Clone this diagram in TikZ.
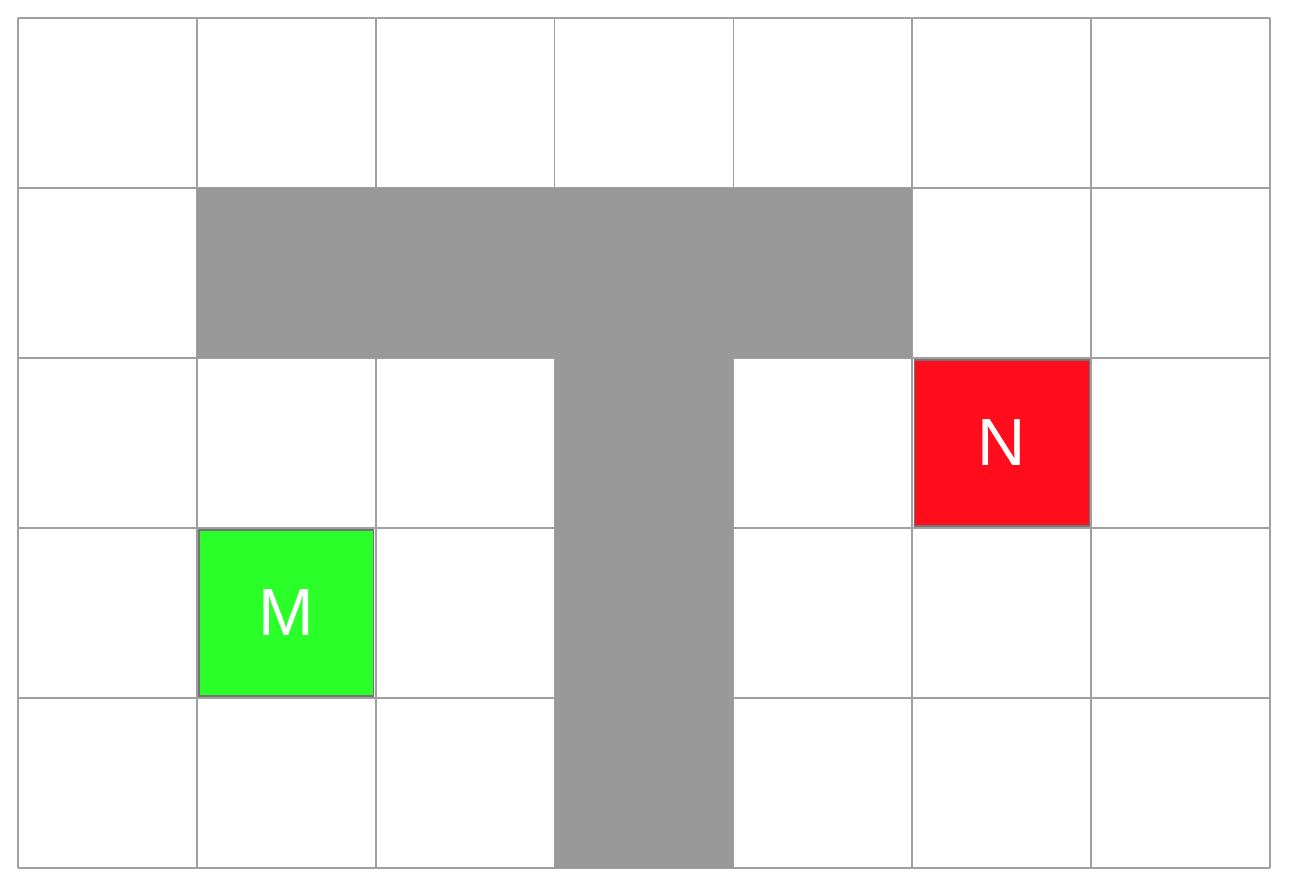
\documentclass[tikz,border=0pt]{standalone}
\usepackage{fontspec}
\setmainfont{Liberation Sans}
\usepackage{tikz}

\definecolor{gridgray}{HTML}{A0A0A0}
\definecolor{wallgray}{HTML}{999999}
\definecolor{startgreen}{HTML}{2AFF2A}
\definecolor{goalred}{HTML}{FF0D1D}

\begin{document}
\begin{tikzpicture}[x=0.02cm, y=-0.02cm,
    cell/.style={draw=black!55, line width=0.8pt, minimum width=3.5cm,
        minimum height=3.32cm, inner sep=0pt, text=white,
        font=\fontsize{38}{38}\selectfont}]
    \useasboundingbox (0,0) rectangle (1294,888);
    \def\W{178.86}
    \def\H{170}

    % 1. Grid lines
    \foreach \c in {0,...,7}
        \draw[gridgray, line width=1pt] ({18+\c*\W},18) -- ({18+\c*\W},868);
    \foreach \r in {0,...,5}
        \draw[gridgray, line width=1pt] (18,{18+\r*\H}) -- (1270,{18+\r*\H});

    % 2. Walls: top bar and stem
    \foreach \c/\r in {1/1, 2/1, 3/1, 4/1, 3/2, 3/3, 3/4}
        \fill[wallgray] ({18+\c*\W},{18+\r*\H}) rectangle ++(\W,\H);

    % 3. Start and goal cells
    \node[cell, fill=startgreen] (M) at ({18+1.5*\W},{18+3.5*\H}) {M};
    \node[cell, fill=goalred] (N) at ({18+5.5*\W},{18+2.5*\H}) {N};
\end{tikzpicture}
\end{document}
